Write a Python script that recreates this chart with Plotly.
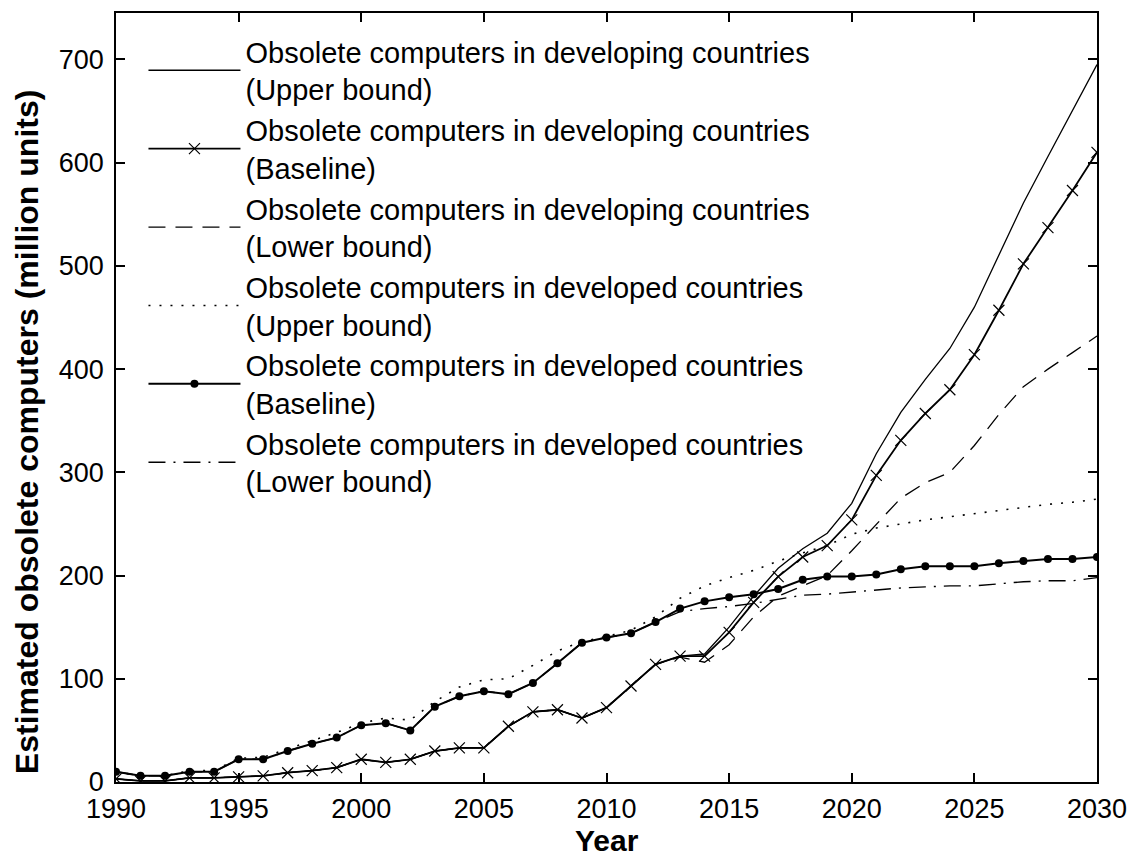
import plotly.graph_objects as go

years = list(range(1990, 2031))

# Obsolete computers in developing countries (million units)
developing_upper = [3, 1, 1, 4, 4, 5, 6, 9, 11, 14, 22, 19, 22, 30, 33, 33, 54, 68, 70, 62,
                    72, 93, 114, 122, 124, 150, 180, 207, 226, 241, 270, 318, 358, 390, 420,
                    460, 510, 561, 606, 650, 695]
developing_base = [3, 1, 1, 4, 4, 5, 6, 9, 11, 14, 22, 19, 22, 30, 33, 33, 54, 68, 70, 62,
                   72, 93, 114, 122, 122, 145, 174, 199, 218, 229, 254, 297, 331, 357, 380,
                   414, 457, 502, 537, 573, 610]
developing_lower = [3, 1, 1, 4, 4, 5, 6, 9, 11, 14, 22, 19, 22, 30, 33, 33, 54, 68, 70, 62,
                    72, 93, 114, 121, 116, 133, 160, 180, 190, 200, 224, 250, 275, 290, 300,
                    326, 356, 383, 400, 416, 432]

# Obsolete computers in developed countries (million units)
developed_upper = [10, 6, 6, 11, 11, 23, 24, 32, 40, 48, 57, 62, 60, 78, 92, 99, 100, 113, 127, 136,
                   141, 147, 160, 178, 190, 198, 205, 214, 222, 229, 240, 246, 250, 254, 257,
                   260, 263, 266, 269, 271, 274]
developed_base = [10, 6, 6, 10, 10, 22, 22, 30, 37, 43, 55, 57, 50, 73, 83, 88, 85, 96, 115, 135,
                  140, 144, 155, 168, 175, 179, 182, 187, 196, 199, 199, 201, 206, 209, 209,
                  209, 212, 214, 216, 216, 218]
developed_lower = [10, 6, 6, 10, 10, 22, 22, 30, 37, 43, 55, 57, 50, 73, 83, 88, 85, 96, 115, 135,
                   140, 144, 155, 165, 168, 170, 173, 177, 181, 182, 184, 186, 188, 189, 190,
                   190, 192, 194, 195, 195, 198]

x_ticks = [1990, 1995, 2000, 2005, 2010, 2015, 2020, 2025, 2030]
y_ticks = [0, 100, 200, 300, 400, 500, 600, 700]

FONT = "Liberation Sans, Arial, Helvetica, sans-serif"
INK = "black"

fig = go.Figure()

fig.add_trace(go.Scatter(
    x=years, y=developing_upper, mode="lines",
    name="Obsolete computers in developing countries<br>(Upper bound)",
    line=dict(color=INK, width=1.3)))
fig.add_trace(go.Scatter(
    x=years, y=developing_base, mode="lines+markers",
    name="Obsolete computers in developing countries<br>(Baseline)",
    line=dict(color=INK, width=1.8),
    marker=dict(symbol="x-thin-open", size=11, line=dict(color=INK, width=1.2))))
fig.add_trace(go.Scatter(
    x=years, y=developing_lower, mode="lines",
    name="Obsolete computers in developing countries<br>(Lower bound)",
    line=dict(color=INK, width=1.3, dash="17px,10px")))
fig.add_trace(go.Scatter(
    x=years, y=developed_upper, mode="lines",
    name="Obsolete computers in developed countries<br>(Upper bound)",
    line=dict(color=INK, width=1.6, dash="2px,9px")))
fig.add_trace(go.Scatter(
    x=years, y=developed_base, mode="lines+markers",
    name="Obsolete computers in developed countries<br>(Baseline)",
    line=dict(color=INK, width=2),
    marker=dict(symbol="circle", size=8, color=INK)))
fig.add_trace(go.Scatter(
    x=years, y=developed_lower, mode="lines",
    name="Obsolete computers in developed countries<br>(Lower bound)",
    line=dict(color=INK, width=1.4, dash="17px,8px,2px,8px")))

axis_common = dict(
    showgrid=False, zeroline=False,
    showline=True, linecolor=INK, linewidth=1.5, mirror="ticks",
    ticks="inside", ticklen=9, tickwidth=1.5, tickcolor=INK,
    tickfont=dict(family=FONT, size=27, color=INK),
    ticklabeloverflow="allow",
)

fig.update_xaxes(range=[1990, 2030], tickvals=x_ticks,
                 ticklabelstandoff=2, **axis_common)
fig.update_yaxes(range=[0, 745], tickvals=y_ticks,
                 ticklabelstandoff=5, **axis_common)

title_font = dict(family=FONT, size=30, color=INK)
fig.add_annotation(
    text="<b>Year</b>", xref="paper", yref="paper",
    x=0.5, y=-0.0767, xanchor="center", yanchor="middle",
    showarrow=False, font=title_font)
fig.add_annotation(
    text="<b>Estimated obsolete computers (million units)</b>",
    xref="paper", yref="paper", x=-0.0907, y=0.455,
    xanchor="center", yanchor="middle", textangle=-90,
    showarrow=False, font=dict(family=FONT, size=32, color=INK))

fig.update_layout(
    width=1127, height=856,
    margin=dict(l=116, r=30, t=13, b=74, autoexpand=False),
    paper_bgcolor="white", plot_bgcolor="white",
    showlegend=True,
    legend=dict(
        x=0.028, y=0.983, xanchor="left", yanchor="top",
        bgcolor="rgba(0,0,0,0)", borderwidth=0,
        font=dict(family=FONT, size=29, color=INK),
        itemwidth=92, tracegroupgap=0, valign="middle",
    ),
)

fig.write_html("out.html")
